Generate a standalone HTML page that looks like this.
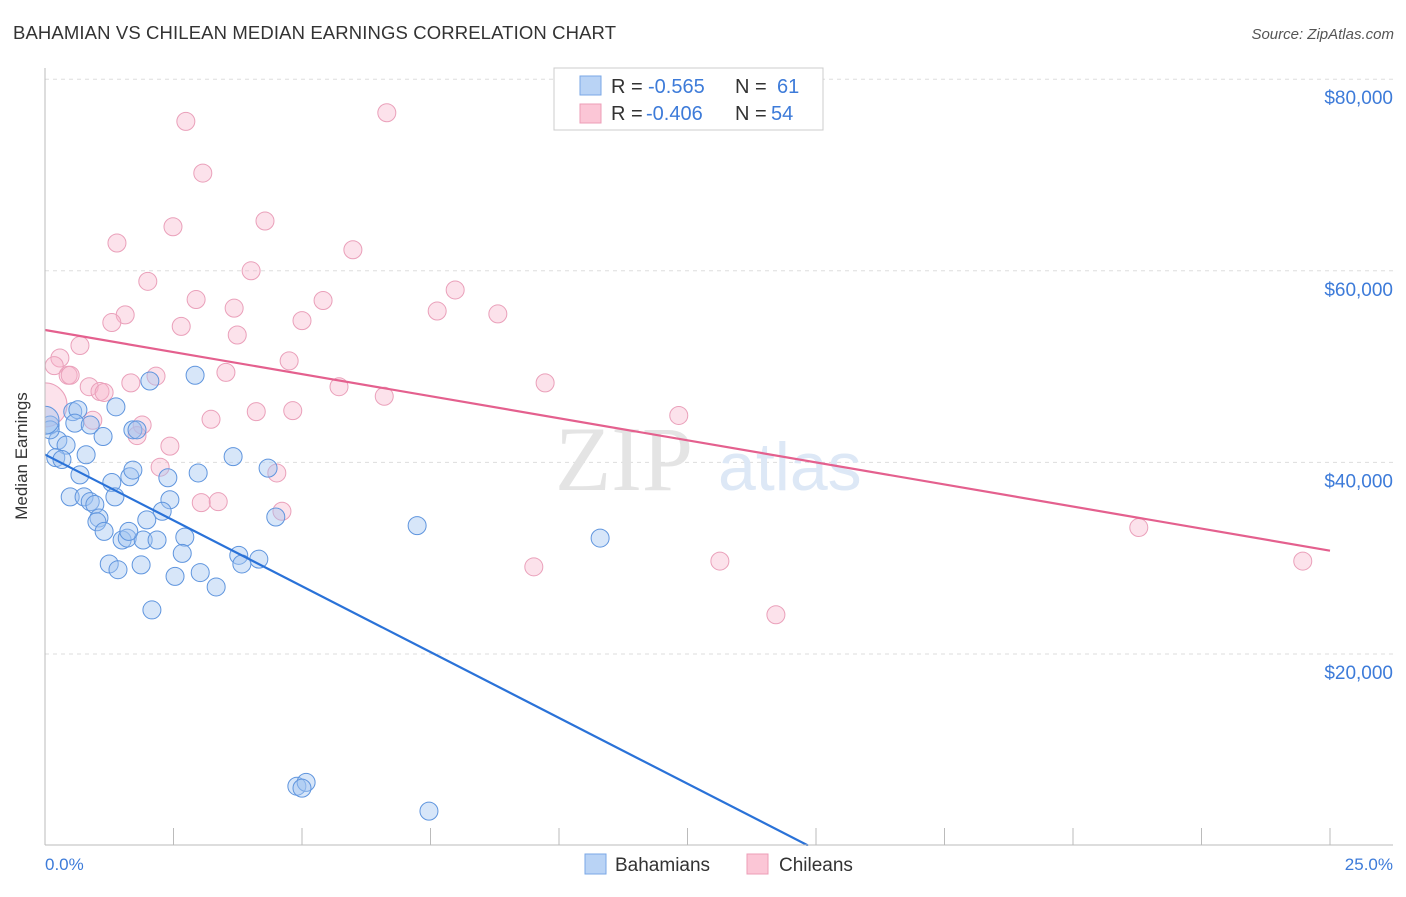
<!DOCTYPE html>
<html><head><meta charset="utf-8"><style>
body{margin:0;background:#fff;font-family:"Liberation Sans",sans-serif;}
svg text{font-family:"Liberation Sans",sans-serif;}
</style></head><body>
<svg id="chart" width="1406" height="892">
<defs><clipPath id="plotclip"><rect x="45" y="60" width="1360" height="786"/></clipPath></defs>
<text x="13" y="39" font-size="18.5" fill="#333" textLength="603">BAHAMIAN VS CHILEAN MEDIAN EARNINGS CORRELATION CHART</text>
<text x="1394" y="39" font-size="15" fill="#555" font-style="italic" text-anchor="end">Source: ZipAtlas.com</text>
<g id="grid"></g>
<text x="555" y="490" font-size="92" fill="#e4e4e4" style="font-family:'Liberation Serif',serif">ZIP</text>
<text x="718" y="490" font-size="68" fill="#dde8f6">atlas</text>
<g id="marks" clip-path="url(#plotclip)"></g>
<line x1="45" y1="68" x2="45" y2="845" stroke="#bbb"/>
<line x1="45" y1="845" x2="1393" y2="845" stroke="#bbb"/>
<g id="ticks"></g>
<text x="27" y="456" font-size="17" fill="#333" text-anchor="middle" transform="rotate(-90 27 456)">Median Earnings</text>
<text x="45" y="870" font-size="17" fill="#3d7bd9">0.0%</text>
<text x="1393" y="870" font-size="17" fill="#3d7bd9" text-anchor="end">25.0%</text>
<g>
<rect x="554" y="68" width="269" height="62" fill="#fff" stroke="#ccc"/>
<rect x="580" y="76" width="21" height="19" fill="#b9d3f5" stroke="#7aa7e6"/>
<rect x="580" y="104" width="21" height="19" fill="#fbc6d6" stroke="#ec9db7"/>
<text x="611" y="93" font-size="20" fill="#333">R = </text><text x="648" y="93" font-size="20" fill="#3d7bd9">-0.565</text>
<text x="735" y="93" font-size="20" fill="#333">N = </text><text x="777" y="93" font-size="20" fill="#3d7bd9">61</text>
<text x="611" y="120" font-size="20" fill="#333">R = </text><text x="646" y="120" font-size="20" fill="#3d7bd9">-0.406</text>
<text x="735" y="120" font-size="20" fill="#333">N = </text><text x="771" y="120" font-size="20" fill="#3d7bd9">54</text>
</g>
<g>
<rect x="585" y="854" width="21" height="20" fill="#b9d3f5" stroke="#7aa7e6"/>
<text x="615" y="871" font-size="19" fill="#333">Bahamians</text></g>
<g>
<rect x="747" y="854" width="21" height="20" fill="#fbc6d6" stroke="#ec9db7"/>
<text x="779" y="871" font-size="19" fill="#333">Chileans</text></g>
</svg>
<script>
const yTicks=[20000,40000,60000,80000];
const yTickLabels=["$20,000","$40,000","$60,000","$80,000"];
const xTicks=[0,2.5,5,7.5,10,12.5,15,17.5,20,22.5,25];
const bahX=[0.10,0.25,0.41,0.54,0.64,0.58,0.88,1.13,1.38,2.04,2.92,1.71,1.79,0.80,0.21,0.33,0.68,1.30,1.65,1.71,2.39,3.66,4.34,2.98,0.49,0.76,0.88,0.97,1.36,2.43,2.28,1.05,1.01,1.15,1.50,1.60,1.98,1.91,2.18,2.72,1.63,2.67,3.77,4.16,3.83,1.25,1.42,1.87,2.53,3.02,3.33,2.08,4.49,7.24,10.80,4.90,5.08,5.00,7.47,0.10,0.00];
const bahY=[43900,42300,41800,45300,45500,44100,43900,42700,45800,48500,49100,43400,43400,40800,40500,40300,38700,37900,38500,39200,38400,40600,39400,38900,36400,36400,35900,35600,36400,36100,34900,34200,33800,32800,31900,32100,34000,31900,31900,32200,32800,30500,30300,29900,29400,29400,28800,29300,28100,28500,27000,24600,34300,33400,32100,6200,6600,6000,3600,43400,44400];
const chiX=[2.74,6.65,3.07,4.28,1.40,2.49,5.99,4.01,2.00,2.94,3.68,5.41,7.63,7.98,8.81,1.56,1.30,2.65,5.00,3.74,0.68,0.29,0.18,0.45,0.49,0.86,1.07,1.15,1.67,2.16,3.52,4.75,5.72,6.60,9.73,0.00,0.93,1.89,1.79,2.43,3.23,4.11,4.82,2.24,4.51,3.04,3.37,4.61,12.33,9.51,13.13,14.22,21.28,24.47];
const chiY=[75600,76500,70200,65200,62900,64600,62200,60000,58900,57000,56100,56900,55800,58000,55500,55400,54600,54200,54800,53300,52200,50900,50100,49100,49100,47900,47400,47300,48300,49000,49400,50600,47900,46900,48300,46000,44400,43900,42800,41700,44500,45300,45400,39500,38900,35800,35900,34900,44900,29100,29700,24100,33200,29700];
const NS="http://www.w3.org/2000/svg";
const sx=v=>45+v/25*1285;
const sy=v=>845.6-v/20000*191.6;
function mk(tag,attrs,parent){const e=document.createElementNS(NS,tag);for(const k in attrs)e.setAttribute(k,attrs[k]);parent.appendChild(e);return e;}
const grid=document.getElementById('grid'),ticks=document.getElementById('ticks'),marks=document.getElementById('marks');
yTicks.forEach((t,i)=>{
 const l=mk('line',{x1:45,x2:1393,y1:sy(t),y2:sy(t),stroke:'#ddd','stroke-dasharray':'4,4'},grid);
 
 
 const tx=mk('text',{x:1393,y:sy(t)+25,'font-size':19,fill:'#3d7bd9','text-anchor':'end'},ticks);
 tx.textContent=yTickLabels[i];
 
 
});
xTicks.forEach(t=>{
 const l=mk('line',{x1:sx(t),x2:sx(t),y1:828,y2:845,stroke:'#bbb'},ticks);
 
 
});
function series(xs,ys,fill,stroke,name){
 xs.forEach((x,i)=>{
  const r=(name==='chilean'&&x===0)?22:(name==='bahamian'&&x===0?14:9);
  const c=mk('circle',{cx:sx(x),cy:sy(ys[i]),r:r,fill:fill,stroke:stroke,'stroke-width':1},marks);
  
  
 });
}
function reg(xs,ys){const n=xs.length;let mx=0,my=0;xs.forEach((x,i)=>{mx+=x;my+=ys[i];});mx/=n;my/=n;let sxy=0,sxx=0;xs.forEach((x,i)=>{sxy+=(x-mx)*(ys[i]-my);sxx+=(x-mx)*(x-mx);});const b=sxy/sxx;return [my-b*mx,b];}
series(chiX,chiY,'rgba(248,180,202,0.38)','#eaa0ba','chilean');
series(bahX,bahY,'rgba(160,195,240,0.42)','#5f95de','bahamian');
const [ca,cb]=reg(chiX,chiY);
const tl1=mk('line',{x1:sx(0),y1:sy(ca),x2:sx(25),y2:sy(ca+cb*25),stroke:'#e4608e','stroke-width':2.2},marks);


const [ba,bb]=reg(bahX,bahY);
const xEnd=Math.min(25,-ba/bb);
const tl2=mk('line',{x1:sx(0),y1:sy(ba),x2:sx(xEnd),y2:sy(ba+bb*xEnd),stroke:'#2a72d8','stroke-width':2.2},marks);


</script>
</body></html>
